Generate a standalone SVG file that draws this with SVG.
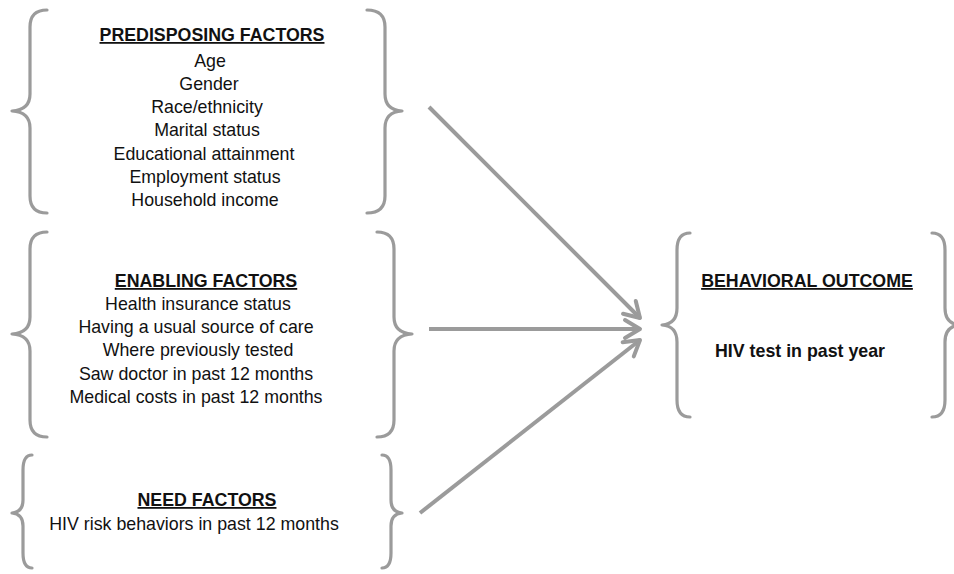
<svg xmlns="http://www.w3.org/2000/svg" width="954" height="574" viewBox="0 0 954 574">
<style>
.br{fill:none;stroke:#9b9b9b;stroke-width:3.2;stroke-linecap:round;stroke-linejoin:round}
.cn{fill:none;stroke:#9b9b9b;stroke-width:4;stroke-linecap:butt}
text{font-family:"Liberation Sans",Arial,sans-serif;font-size:17.8px;fill:#111;text-anchor:middle}
.h{font-weight:bold;text-decoration:underline}
.b{font-weight:bold}
</style>
<defs>
<marker id="ah" markerUnits="userSpaceOnUse" markerWidth="30" markerHeight="30" viewBox="-20 -15 30 30" refX="0" refY="0" orient="auto">
<path d="M-15,-9 L0,0 L-15,9" fill="none" stroke="#9b9b9b" stroke-width="4" stroke-linecap="round" stroke-linejoin="round"/>
</marker>
</defs>
<rect width="954" height="574" fill="#fff"/>
<g id="predisposing">
<path class="br" d="M47,10 Q30,10 30,27 L30,94 Q30,110 12,111 Q30,112 30,128 L30,196 Q30,213 47,213"/>
<path class="br" d="M367,10 Q385,10 385,27 L385,94 Q385,110 402,111 Q385,112 385,128 L385,196 Q385,213 367,213"/>
<text class="h" x="212" y="41">PREDISPOSING FACTORS</text>
<text x="210" y="67">Age</text>
<text x="209" y="90">Gender</text>
<text x="207" y="113">Race/ethnicity</text>
<text x="207" y="136">Marital status</text>
<text x="204" y="160">Educational attainment</text>
<text x="205" y="183">Employment status</text>
<text x="205" y="206">Household income</text>
</g>
<g id="enabling">
<path class="br" d="M47,232 Q30,232 30,249 L30,317 Q30,333 12,334 Q30,335 30,351 L30,420 Q30,437 47,437"/>
<path class="br" d="M377,232 Q394,232 394,249 L394,317 Q394,333 412,334 Q394,335 394,351 L394,420 Q394,437 377,437"/>
<text class="h" x="206" y="287">ENABLING FACTORS</text>
<text x="198" y="310">Health insurance status</text>
<text x="196" y="333">Having a usual source of care</text>
<text x="198" y="356">Where previously tested</text>
<text x="196" y="380">Saw doctor in past 12 months</text>
<text x="196" y="403">Medical costs in past 12 months</text>
</g>
<g id="need">
<path class="br" d="M32,455 Q23,455 23,470 L23,500 Q23,512 12,513 Q23,514 23,526 L23,553 Q23,568 32,568"/>
<path class="br" d="M382,455 Q391,455 391,470 L391,500 Q391,512 402,513 Q391,514 391,526 L391,553 Q391,568 382,568"/>
<text class="h" x="207" y="506">NEED FACTORS</text>
<text x="194" y="530">HIV risk behaviors in past 12 months</text>
</g>
<g id="outcome">
<path class="br" d="M690,233 Q677,233 677,250 L677,308 Q677,324 662,325 Q677,326 677,342 L677,400 Q677,417 690,417"/>
<path class="br" d="M932,233 Q945,233 945,250 L945,308 Q945,324 960,325 Q945,326 945,342 L945,400 Q945,417 932,417"/>
<text class="h" x="807" y="287">BEHAVIORAL OUTCOME</text>
<text class="b" x="800" y="357">HIV test in past year</text>
</g>
<g id="connectors">
<line class="cn" x1="429" y1="107" x2="640" y2="318" marker-end="url(#ah)"/>
<line class="cn" x1="429" y1="329" x2="640" y2="329" marker-end="url(#ah)"/>
<line class="cn" x1="420" y1="513" x2="640" y2="340" marker-end="url(#ah)"/>
</g>
</svg>
